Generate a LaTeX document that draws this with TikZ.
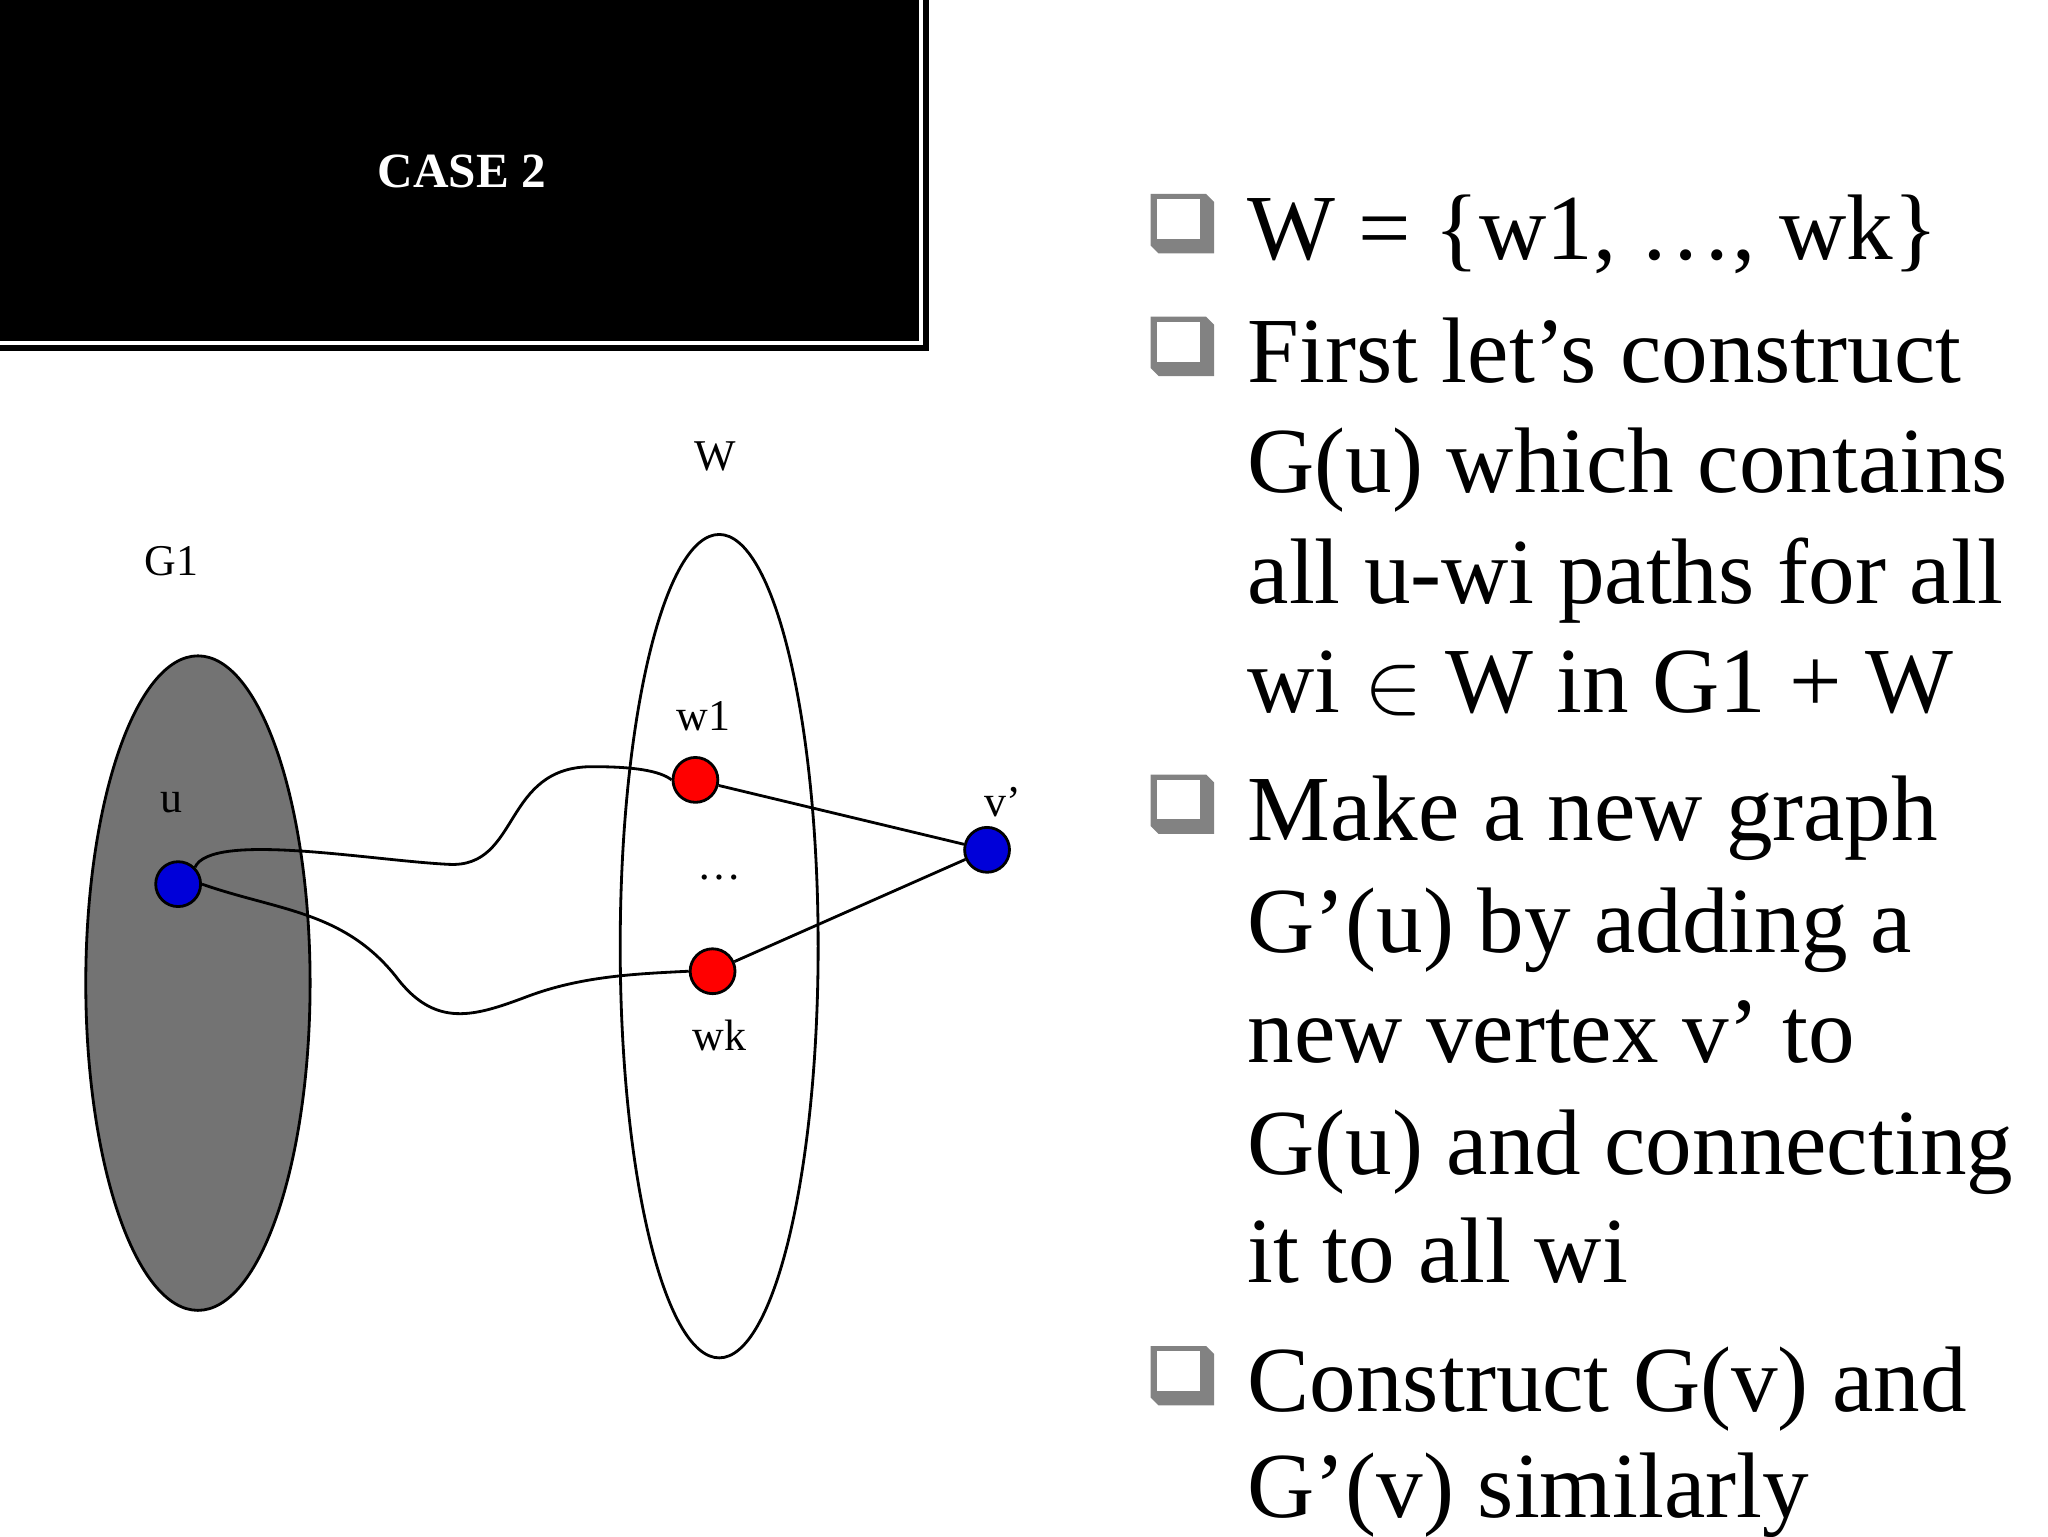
\documentclass[tikz,border=0pt]{standalone}
\usepackage{fontspec}
\setmainfont{Liberation Serif}
\begin{document}
\begin{tikzpicture}[x=0.0132cm,y=-0.0132cm,
  lbl/.style={font=\fontsize{12.5}{14}\selectfont},
  txt/.style={anchor=base west,inner sep=0,font=\fontsize{26.5}{31}\selectfont},
  vtx/.style={circle,draw=black,line width=0.8pt,minimum size=34*0.0132cm,inner sep=0},
  edge/.style={line width=0.8pt},
  bullet/.pic={
    \fill[gray!60!black!70] (0,0) -- (42,0) -- (48,6) -- (48,45) -- (6,45) -- (0,39) -- cycle;
    \fill[white] (5,4) rectangle (37,34);
  }]
\useasboundingbox (0,0) rectangle (1552,1164);
% title box
\fill[black] (0,0) rectangle (704,266);
\draw[white,line width=1pt] (-5,-5) rectangle (698,260);
\node[text=white,font=\bfseries\fontsize{14}{17}\selectfont] (title) at (350,130) {CASE 2};
% ellipses
\draw[fill=black!55,line width=0.8pt] (150,745) ellipse [x radius=85,y radius=248];
\draw[fill=white,line width=0.8pt] (545,717) ellipse [x radius=75,y radius=312];
\node[lbl] (Wl) at (542,346) {W};
\node[lbl] (G1l) at (130,425) {G1};
\node[lbl] (w1l) at (533,543) {w1};
\node[lbl] (ul) at (130,608) {u};
\node[lbl] (dots) at (545,665) {\dots};
\node[lbl] (wkl) at (545,785) {wk};
\node[lbl] (vl) at (760,608) {v’};
% vertices
\node[vtx,fill=blue!85!black] (u) at (135,670) {};
\node[vtx,fill=red] (w1) at (527,591) {};
\node[vtx,fill=red] (wk) at (540,736) {};
\node[vtx,fill=blue!85!black] (v) at (748,644) {};
% edges
\draw[edge] (u.north east) .. controls (160,630) and (280,652) .. (340,655)
  .. controls (395,658) and (380,580) .. (450,581) .. controls (480,581) and (500,584) .. (w1.west);
\draw[edge] (u.east) .. controls (210,690) and (260,690) .. (300,740)
  .. controls (330,780) and (360,770) .. (400,755) .. controls (440,740) and (480,738) .. (wk.west);
\draw[edge] (w1) -- (v);
\draw[edge] (wk) -- (v);
% bullets
\foreach \b in {197,290,637,1070} \pic at (872,\b-50) {bullet};
% text
\node[txt] (t1) at (945,197) {W = \{w1, …, wk\}};
\node[txt] (t2) at (945,290) {First let’s construct};
\node[txt] (t3) at (945,373) {G(u) which contains};
\node[txt] (t4) at (945,457) {all u-wi paths for all};
\node[txt] (t5) at (945,540) {wi $\in$ W in G1 + W};
\node[txt] (t6) at (945,637) {Make a new graph};
\node[txt] (t7) at (945,722) {G’(u) by adding a};
\node[txt] (t8) at (945,805) {new vertex v’ to};
\node[txt] (t9) at (945,890) {G(u) and connecting};
\node[txt] (t10) at (945,972) {it to all wi};
\node[txt] (t11) at (945,1070) {Construct G(v) and};
\node[txt] (t12) at (945,1150) {G’(v) similarly};
\end{tikzpicture}
\end{document}
